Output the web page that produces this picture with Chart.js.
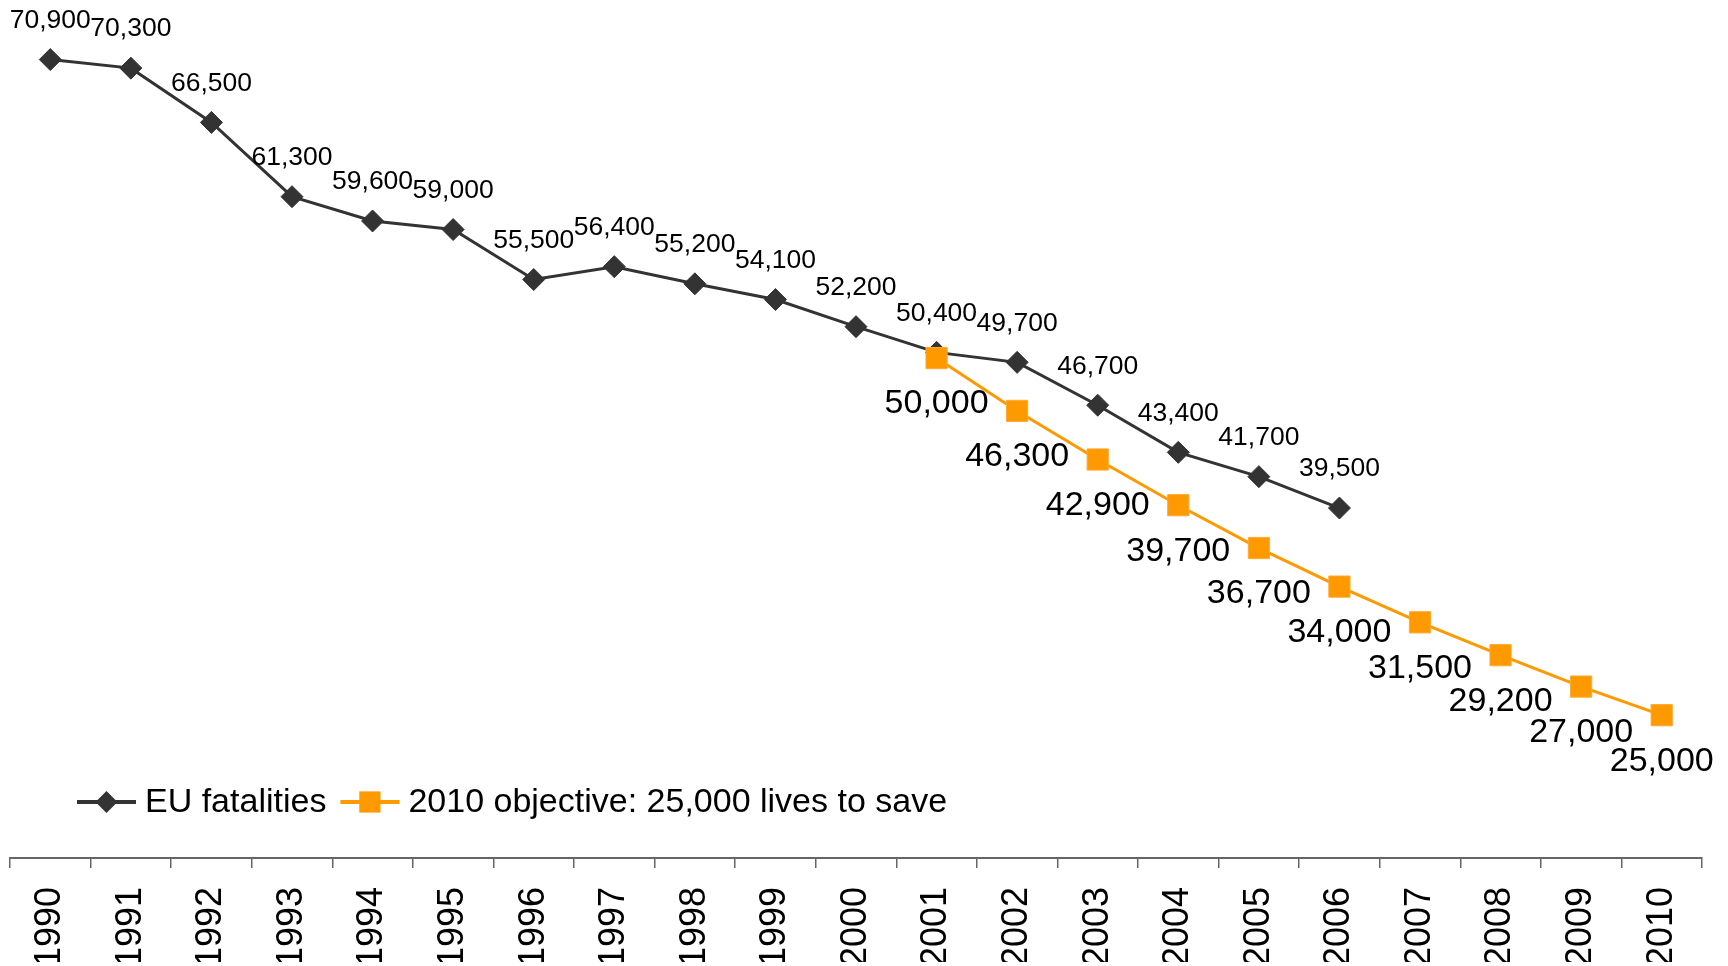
<!DOCTYPE html>
<html>
<head>
<meta charset="utf-8">
<script src="https://cdn.jsdelivr.net/npm/chart.js@4.4.1/dist/chart.umd.min.js"></script>
<style>
  html, body { margin: 0; padding: 0; background: #fff; }
  #wrap { width: 1728px; height: 966px; position: relative; }
</style>
</head>
<body>
<div id="wrap"><canvas id="fatalities"></canvas></div>
<script>
const years = ['1990', '1991', '1992', '1993', '1994', '1995', '1996', '1997', '1998', '1999', '2000',
               '2001', '2002', '2003', '2004', '2005', '2006', '2007', '2008', '2009', '2010'];

const euFatalities = [70900, 70300, 66500, 61300, 59600, 59000, 55500, 56400, 55200, 54100, 52200,
                      50400, 49700, 46700, 43400, 41700, 39500, null, null, null, null];

const objective2010 = [null, null, null, null, null, null, null, null, null, null, null,
                       50000, 46300, 42900, 39700, 36700, 34000, 31500, 29200, 27000, 25000];

const seriesNames = ['EU fatalities', '2010 objective: 25,000 lives to save'];

const FONT = "'Liberation Sans', Arial, sans-serif";

function drawMarker(ctx, style, x, y, r) {
  ctx.beginPath();
  if (style === 'rectRot') {
    ctx.moveTo(x, y - r);
    ctx.lineTo(x + r, y);
    ctx.lineTo(x, y + r);
    ctx.lineTo(x - r, y);
  } else {
    const h = r * Math.SQRT1_2;
    ctx.rect(x - h, y - h, 2 * h, 2 * h);
  }
  ctx.closePath();
  ctx.fill();
}

// numbers printed next to each point
const valueLabels = {
  id: 'valueLabels',
  afterDatasetsDraw(chart) {
    const ctx = chart.ctx;
    ctx.save();
    ctx.textAlign = 'center';
    ctx.textBaseline = 'middle';
    ctx.fillStyle = '#000';
    chart.data.datasets.forEach((ds, i) => {
      const meta = chart.getDatasetMeta(i);
      ctx.font = ds.labelSize + 'px ' + FONT;
      meta.data.forEach((pt, j) => {
        const v = ds.data[j];
        if (v == null) return;
        ctx.fillText(v.toLocaleString('en-US'), pt.x, pt.y + ds.labelOffset);
      });
    });
    ctx.restore();
  }
};

// legend sits inside the plot, just above the year axis
const insideLegend = {
  id: 'insideLegend',
  afterDraw(chart) {
    const ctx = chart.ctx;
    const area = chart.chartArea;
    const y = area.bottom - 56;
    let x = area.left + 67;
    ctx.save();
    ctx.font = '34px ' + FONT;
    ctx.textBaseline = 'middle';
    ctx.textAlign = 'left';
    chart.data.datasets.forEach(ds => {
      ctx.strokeStyle = ds.borderColor;
      ctx.lineWidth = 4;
      ctx.beginPath();
      ctx.moveTo(x, y);
      ctx.lineTo(x + 59, y);
      ctx.stroke();
      ctx.fillStyle = ds.pointBackgroundColor;
      drawMarker(ctx, ds.pointStyle, x + 29.5, y, ds.pointRadius);
      ctx.fillStyle = '#000';
      ctx.fillText(ds.label, x + 68, y + 1);
      x += 68 + ctx.measureText(ds.label).width + 14;
    });
    ctx.restore();
  }
};

new Chart(document.getElementById('fatalities'), {
  type: 'line',
  data: {
    labels: years,
    datasets: [
      {
        label: seriesNames[0],
        data: euFatalities,
        order: 2,
        borderColor: '#333333',
        borderWidth: 3,
        pointStyle: 'rectRot',
        pointRadius: 11,
        pointBackgroundColor: '#333333',
        pointBorderColor: '#333333',
        pointBorderWidth: 1,
        labelSize: 26.5,
        labelOffset: -39
      },
      {
        label: seriesNames[1],
        data: objective2010,
        order: 1,
        borderColor: '#FF9900',
        borderWidth: 3,
        pointStyle: 'rect',
        pointRadius: 15,
        pointBackgroundColor: '#FF9900',
        pointBorderColor: '#FFAA33',
        pointBorderWidth: 1,
        labelSize: 34,
        labelOffset: 46
      }
    ]
  },
  options: {
    responsive: true,
    maintainAspectRatio: false,
    animation: false,
    layout: { autoPadding: false, padding: { top: 1, left: 10, right: 26, bottom: 4 } },
    plugins: {
      legend: { display: false },
      tooltip: { enabled: false }
    },
    scales: {
      x: {
        offset: true,
        afterFit(scale) {
          scale.height = 104;
        },
        grid: {
          offset: true,
          drawOnChartArea: false,
          drawTicks: true,
          tickLength: 10,
          color: '#666666',
          lineWidth: 1.5
        },
        border: { display: true, color: '#666666', width: 2 },
        ticks: {
          autoSkip: false,
          minRotation: 90,
          maxRotation: 90,
          padding: 19,
          color: '#000',
          font: { size: 36, family: FONT }
        }
      },
      y: {
        display: false,
        min: 15000,
        max: 75000
      }
    }
  },
  plugins: [valueLabels, insideLegend]
});
</script>
</body>
</html>
